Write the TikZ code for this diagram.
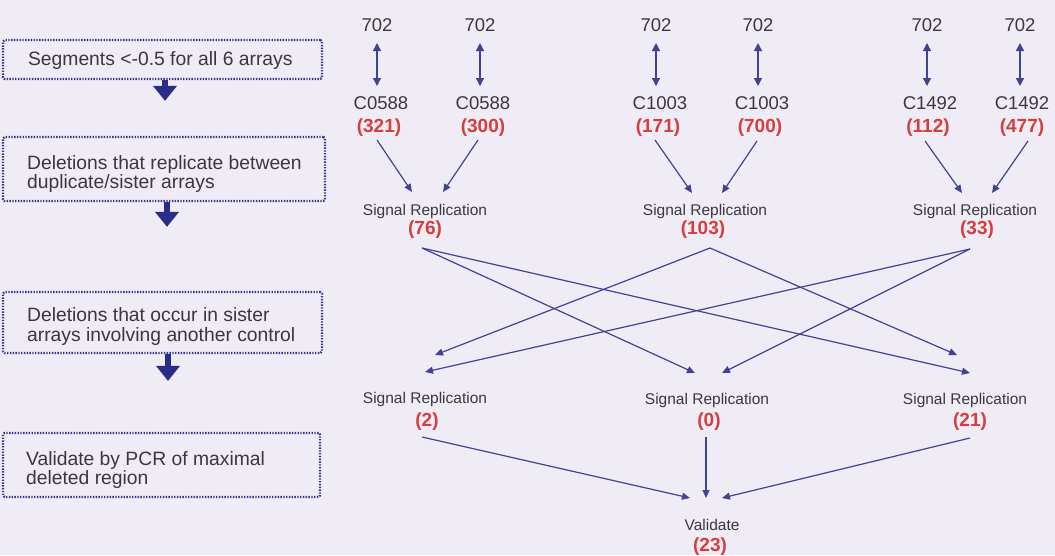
\documentclass[tikz,border=0pt]{standalone}
\usepackage{fontspec}
\setmainfont{Liberation Sans}
\usetikzlibrary{arrows.meta,calc}
\definecolor{bg}{RGB}{240,236,245}
\definecolor{txt}{RGB}{58,56,62}
\definecolor{num}{RGB}{214,62,62}
\definecolor{ln}{RGB}{66,66,148}
\definecolor{bx}{RGB}{52,52,145}
\definecolor{blk}{RGB}{42,44,135}
\begin{document}
\begin{tikzpicture}[x=1pt,y=-1pt,
 lbl/.style={text=txt,font=\fontsize{18.5}{20}\selectfont,inner sep=0pt},
 rednum/.style={text=num,font=\fontsize{19}{20}\selectfont\bfseries,inner sep=0pt},
 sr/.style={text=txt,font=\fontsize{15.5}{17}\selectfont,inner sep=0pt},
 arr/.style={draw=ln,line width=1.2pt,-{Triangle[length=8pt,width=7pt]}},
 darr/.style={draw=ln,line width=1.3pt,{Triangle[length=8pt,width=8pt]}-{Triangle[length=8pt,width=8pt]}},
 stepbox/.style={draw=bx,line width=2.2pt,dash pattern=on 1.4pt off 1.4pt,rounded corners=1.5pt,inner sep=0pt},
 boxtext/.style={text=txt,font=\fontsize{19.3}{19.5}\selectfont,align=left,anchor=west,inner sep=0pt},
 blockarrow/.style={draw=blk,line width=6pt,-{Triangle[length=15pt,width=23pt]}}
]
\fill[bg] (0,0) rectangle (1055,555);
\useasboundingbox (0,0) rectangle (1055,555);

% left boxes
\node[stepbox,minimum width=319pt,minimum height=39pt] (b1) at (162.5,59.5) {};
\node[boxtext] (bt1) at ($(b1.west)+(26,1)$) {Segments <-0.5 for all 6 arrays};
\node[stepbox,minimum width=322pt,minimum height=64pt] (b2) at (164,169) {};
\node[boxtext] (bt2) at ($(b2.west)+(25,5)$) {Deletions that replicate between\\duplicate/sister arrays};
\node[stepbox,minimum width=319pt,minimum height=61pt] (b3) at (162.5,322.5) {};
\node[boxtext] (bt3) at ($(b3.west)+(25,4)$) {Deletions that occur in sister\\arrays involving another control};
\node[stepbox,minimum width=317pt,minimum height=64pt] (b4) at (161.5,465) {};
\node[boxtext] (bt4) at ($(b4.west)+(24,5)$) {Validate by PCR of maximal\\deleted region};

\draw[blockarrow] ($(b1.south)+(2.5,0)$) -- ($(b2.north)+(1,-35)$);
\draw[blockarrow] ($(b2.south)+(3,0)$) -- ($(b3.north)+(4.5,-64)$);
\draw[blockarrow] ($(b3.south)+(5.5,0)$) -- ($(b4.north)+(6.5,-51)$);

% top row
\node[lbl] (t1) at (377,25) {702};
\node[lbl] (t2) at (480,25) {702};
\node[lbl] (t3) at (656,25) {702};
\node[lbl] (t4) at (758,25) {702};
\node[lbl] (t5) at (927,25) {702};
\node[lbl] (t6) at (1020,25) {702};

\node[lbl] (c1) at (381,103) {C0588};
\node[lbl] (c2) at (483,103) {C0588};
\node[lbl] (c3) at (660,103) {C1003};
\node[lbl] (c4) at (762,103) {C1003};
\node[lbl] (c5) at (930,103) {C1492};
\node[lbl] (c6) at (1022,103) {C1492};

\node[rednum] (n1) at (379,128) {(321)};
\node[rednum] (n2) at (483,128) {(300)};
\node[rednum] (n3) at (658,128) {(171)};
\node[rednum] (n4) at (760,128) {(700)};
\node[rednum] (n5) at (928,128) {(112)};
\node[rednum] (n6) at (1022,128) {(477)};

\foreach \i in {1,...,6}{
  \draw[darr] ($(t\i)+(0,18)$) -- ($(t\i|-c\i)+(0,-17)$);
}

% first signal replication row
\node[sr] (s1) at (425,211) {Signal Replication};
\node[sr] (s2) at (705,211) {Signal Replication};
\node[sr] (s3) at (975,211) {Signal Replication};
\node[rednum] (m1) at (425,230) {(76)};
\node[rednum] (m2) at (703,230) {(103)};
\node[rednum] (m3) at (977,230) {(33)};

\draw[arr] ($(n1)+(-2,12)$) -- ($(s1)+(-13,-19)$);
\draw[arr] ($(n2)+(-5,12)$) -- ($(s1)+(18,-19)$);
\draw[arr] ($(n3)+(-3,12)$) -- ($(s2)+(-13,-18)$);
\draw[arr] ($(n4)+(-3,13)$) -- ($(s2)+(17,-18)$);
\draw[arr] ($(n5)+(-3,13)$) -- ($(s3)+(-13,-18)$);
\draw[arr] ($(n6)+(6,13)$) -- ($(s3)+(17,-18)$);

% second signal replication row
\node[sr] (s4) at (425,399) {Signal Replication};
\node[sr] (s5) at (707,400) {Signal Replication};
\node[sr] (s6) at (965,400) {Signal Replication};
\node[rednum] (m4) at (427,422) {(2)};
\node[rednum] (m5) at (709,422) {(0)};
\node[rednum] (m6) at (970,422) {(21)};

\draw[arr] ($(m1)+(-3,18)$) -- ($(s5)+(-12,-27)$);
\draw[arr] ($(m1)+(-3,18)$) -- ($(s6)+(5,-27)$);
\draw[arr] ($(m2)+(7,18)$) -- ($(s4)+(10,-44)$);
\draw[arr] ($(m2)+(7,18)$) -- ($(s6)+(-8,-45)$);
\draw[arr] ($(m3)+(-7,19)$) -- ($(s5)+(15,-27)$);
\draw[arr] ($(m3)+(-7,19)$) -- ($(s4)+(0,-27)$);

% validate
\node[sr] (v) at (712,525) {Validate};
\node[rednum] (vn) at (710,547) {(23)};

\draw[arr] ($(m4)+(-5,15)$) -- ($(v)+(-22,-27)$);
\draw[arr] ($(m5)+(-3,15)$) -- ($(v)+(-6,-27)$);
\draw[arr] ($(m6)+(0,16)$) -- ($(v)+(10,-27)$);
\end{tikzpicture}
\end{document}
